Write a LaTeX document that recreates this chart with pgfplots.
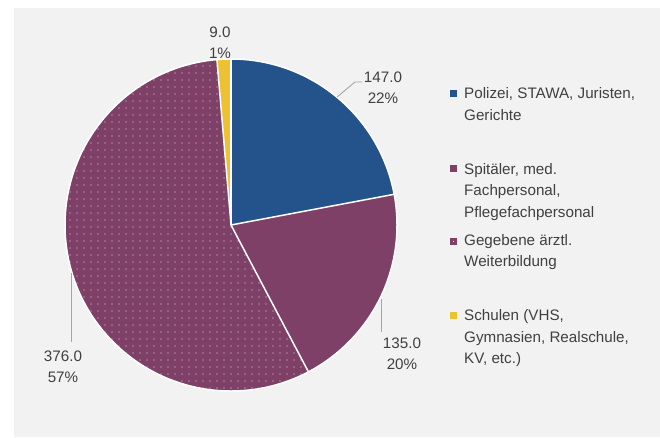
\documentclass[border=0pt]{standalone}
\usepackage{fontspec}
\setmainfont{Liberation Sans}
\usepackage{pgfplots}
\pgfplotsset{compat=1.18}
\usepackage{pgfplotstable}
\usetikzlibrary{patterns.meta}
\definecolor{bgc}{HTML}{F2F2F2}
\definecolor{cblue}{HTML}{24528A}
\definecolor{cpurple}{HTML}{7E4066}
\definecolor{cyellow}{HTML}{ECC232}
\definecolor{ctext}{HTML}{404040}
\definecolor{clead}{HTML}{A6A6A6}

\pgfplotstableread{
idx value
0 147
1 135
2 376
3 9
}\piedata
\pgfplotstablegetelem{0}{value}\of\piedata \pgfmathsetmacro\vA{\pgfplotsretval}
\pgfplotstablegetelem{1}{value}\of\piedata \pgfmathsetmacro\vB{\pgfplotsretval}
\pgfplotstablegetelem{2}{value}\of\piedata \pgfmathsetmacro\vC{\pgfplotsretval}
\pgfplotstablegetelem{3}{value}\of\piedata \pgfmathsetmacro\vD{\pgfplotsretval}
\pgfmathsetmacro\tot{\vA+\vB+\vC+\vD}
\pgfmathsetmacro\aA{90}
\pgfmathsetmacro\aB{\aA-360*(\vA/\tot)}
\pgfmathsetmacro\aC{\aB-360*(\vB/\tot)}
\pgfmathsetmacro\aD{\aC-360*(\vC/\tot)}
\pgfmathsetmacro\aE{\aD-360*(\vD/\tot)}

\begin{document}
\begin{tikzpicture}
\begin{axis}[
  width=660pt, height=437pt, scale only axis,
  xmin=0, xmax=660, ymin=0, ymax=437, y dir=reverse,
  enlargelimits=false, hide axis, clip=false]
\coordinate (BL) at (axis cs:0,437);
\coordinate (TR) at (axis cs:660,0);
\fill[white] (axis cs:0,0) rectangle (axis cs:660,437);
\fill[bgc] (axis cs:14,8) rectangle (axis cs:660,437);
% slices
\fill[cblue] (axis cs:231,225) -- ++(\aA:166pt) arc[start angle=\aA, end angle=\aB, radius=166pt] -- cycle;
\fill[cpurple] (axis cs:231,225) -- ++(\aB:166pt) arc[start angle=\aB, end angle=\aC, radius=166pt] -- cycle;
\fill[cpurple] (axis cs:231,225) -- ++(\aC:166pt) arc[start angle=\aC, end angle=\aD, radius=166pt] -- cycle;
\fill[pattern={Dots[radius=0.6pt, distance=7pt]}, pattern color=white!80!cpurple] (axis cs:231,225) -- ++(\aC:166pt) arc[start angle=\aC, end angle=\aD, radius=166pt] -- cycle;
\fill[cyellow] (axis cs:231,225) -- ++(\aD:166pt) arc[start angle=\aD, end angle=\aE, radius=166pt] -- cycle;
% borders
\draw[white, line width=1.5pt] (axis cs:231,225) circle[radius=166pt];
\draw[white, line width=1.5pt] (axis cs:231,225) -- ++(\aA:166pt);
\draw[white, line width=1.5pt] (axis cs:231,225) -- ++(\aB:166pt);
\draw[white, line width=1.5pt] (axis cs:231,225) -- ++(\aC:166pt);
\draw[white, line width=1.5pt] (axis cs:231,225) -- ++(\aD:166pt);
% leader lines
\draw[clead, line width=0.9pt] (axis cs:337,97) -- (axis cs:355,82) -- (axis cs:362,82);
\draw[clead, line width=0.9pt] (axis cs:381,299) -- (axis cs:381,332);
\draw[clead, line width=0.9pt] (axis cs:71,273) -- (axis cs:71,342);
% data labels
\tikzset{dl/.style={text=ctext, align=center, inner sep=0pt, font=\fontsize{15.2}{21}\selectfont}}
\node[dl] at (axis cs:383,87.5) {147.0\\22\%};
\node[dl] at (axis cs:402,354) {135.0\\20\%};
\node[dl] at (axis cs:63,366.5) {376.0\\57\%};
\node[dl] at (axis cs:220,42.5) {9.0\\1\%};
% legend
\tikzset{lg/.style={text=ctext, anchor=base west, inner sep=0pt, font=\fontsize{15.2}{21}\selectfont}}
\fill[cblue] (axis cs:450,90) rectangle (axis cs:457,97);
\node[lg] at (axis cs:464,98.5) {Polizei, STAWA, Juristen,};
\node[lg] at (axis cs:464,120.5) {Gerichte};
\fill[cpurple] (axis cs:450,165) rectangle (axis cs:457,172);
\node[lg] at (axis cs:464,174) {Spitäler, med.};
\node[lg] at (axis cs:464,195.5) {Fachpersonal,};
\node[lg] at (axis cs:464,217) {Pflegefachpersonal};
\fill[cpurple] (axis cs:450,238) rectangle (axis cs:457,245);
\fill[white!80!cpurple] (axis cs:453.5,241.5) circle[radius=0.7pt];
\node[lg] at (axis cs:464,245.5) {Gegebene ärztl.};
\node[lg] at (axis cs:464,266.5) {Weiterbildung};
\fill[cyellow] (axis cs:450,312) rectangle (axis cs:457,319);
\node[lg] at (axis cs:464,320.5) {Schulen (VHS,};
\node[lg] at (axis cs:464,342.5) {Gymnasien, Realschule,};
\node[lg] at (axis cs:464,363.5) {KV, etc.)};
\end{axis}
\pgfresetboundingbox
\path[use as bounding box] (BL) rectangle (TR);
\end{tikzpicture}
\end{document}
